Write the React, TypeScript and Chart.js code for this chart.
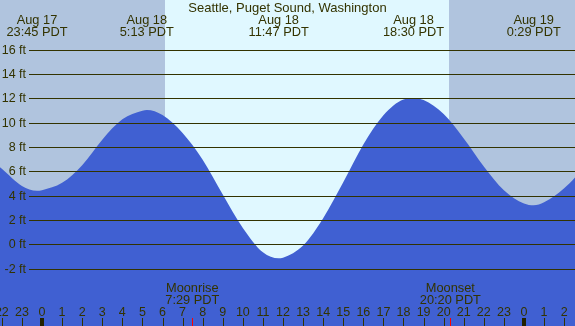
import { useEffect, useRef } from "react";
import { Chart, registerables } from "chart.js";

Chart.register(...registerables);

const TITLE = "Seattle, Puget Sound, Washington";

// hours since Aug 18 00:00 PDT
const tideHours = [-3, -2, -1, -0.25, 0, 1, 2, 3, 4, 5, 5.22, 6, 7, 8, 9, 10, 11, 11.78, 12, 13, 14, 15, 16, 17, 18, 18.5, 19, 20, 21, 22, 23, 24, 24.48, 25, 26, 27];
const tideFeet = [7.6, 6.2, 4.8, 4.4, 4.45, 5.05, 6.5, 8.6, 10.27, 10.98, 11.03, 10.62, 9.15, 6.95, 4.1, 1.35, -0.65, -1.15, -1.1, -0.1, 2.15, 5.1, 8.2, 10.6, 11.9, 12.0, 11.85, 10.7, 8.7, 6.4, 4.45, 3.35, 3.2, 3.45, 4.6, 6.3];

const extremeHours = [-0.25, 5.217, 11.783, 18.5, 24.483];
const extremeDates = ["Aug 17", "Aug 18", "Aug 18", "Aug 18", "Aug 19"];
const extremeTimes = ["23:45 PDT", "5:13 PDT", "11:47 PDT", "18:30 PDT", "0:29 PDT"];

const moonHours = [7.483, 20.333];
const moonNames = ["Moonrise", "Moonset"];
const moonTimes = ["7:29 PDT", "20:20 PDT"];

const sunHours = [6.12, 20.27];

const hourValues = [-2, -1, 0, 1, 2, 3, 4, 5, 6, 7, 8, 9, 10, 11, 12, 13, 14, 15, 16, 17, 18, 19, 20, 21, 22, 23, 24, 25, 26];
const hourLabels = ["22", "23", "0", "1", "2", "3", "4", "5", "6", "7", "8", "9", "10", "11", "12", "13", "14", "15", "16", "17", "18", "19", "20", "21", "22", "23", "0", "1", "2"];
const midnightHours = [0, 24];

const yTickValues = [-2, 0, 2, 4, 6, 8, 10, 12, 14, 16];
const yTickLabels = ["-2 ft", "0 ft", "2 ft", "4 ft", "6 ft", "8 ft", "10 ft", "12 ft", "14 ft", "16 ft"];

const NIGHT = "#b0c4de";
const DAY = "#e0f8ff";
const WATER = "#4060d2";
const INK = "#333300";
const FONT = '"Liberation Sans", Arial, sans-serif';

const decor = {
  id: "tideDecor",
  beforeDraw(chart: any) {
    const { ctx, scales } = chart;
    const xs = scales.x;
    ctx.save();
    ctx.fillStyle = NIGHT;
    ctx.fillRect(0, 0, chart.width, chart.height);
    const x1 = xs.getPixelForValue(sunHours[0]);
    const x2 = xs.getPixelForValue(sunHours[1]);
    ctx.fillStyle = DAY;
    ctx.fillRect(Math.round(x1), 0, Math.round(x2) - Math.round(x1), chart.height);
    ctx.restore();
  },
  afterDatasetsDraw(chart: any) {
    const { ctx, scales } = chart;
    const xs = scales.x;
    const ys = scales.y;
    const W = chart.width;
    const H = chart.height;
    ctx.save();
    // grid lines and y labels
    ctx.strokeStyle = INK;
    ctx.lineWidth = 1;
    ctx.fillStyle = INK;
    ctx.font = `12.5px ${FONT}`;
    ctx.textAlign = "right";
    ctx.textBaseline = "middle";
    yTickValues.forEach((v, i) => {
      const y = Math.round(ys.getPixelForValue(v)) + 0.5;
      ctx.beginPath();
      ctx.moveTo(29, y);
      ctx.lineTo(W, y);
      ctx.stroke();
      ctx.fillText(yTickLabels[i], 26, y);
    });
    // title
    ctx.textAlign = "center";
    ctx.textBaseline = "alphabetic";
    ctx.font = `13px ${FONT}`;
    ctx.fillText(TITLE, W / 2, 12);
    // extremes
    ctx.font = `12.8px ${FONT}`;
    extremeHours.forEach((h, i) => {
      const x = xs.getPixelForValue(h);
      ctx.fillText(extremeDates[i], x, 23.5);
      ctx.fillText(extremeTimes[i], x, 36);
    });
    // moon
    moonHours.forEach((h, i) => {
      const x = xs.getPixelForValue(h);
      ctx.fillText(moonNames[i], x, 292);
      ctx.fillText(moonTimes[i], x, 304);
    });
    // hour labels
    ctx.font = `12.5px ${FONT}`;
    hourValues.forEach((h, i) => {
      const x = xs.getPixelForValue(h);
      ctx.fillText(hourLabels[i], x, 316);
    });
    // hour ticks
    hourValues.forEach((h) => {
      const x = Math.round(xs.getPixelForValue(h)) + 0.5;
      ctx.beginPath();
      ctx.moveTo(x, 318);
      ctx.lineTo(x, H);
      ctx.stroke();
    });
    ctx.fillStyle = "#222200";
    midnightHours.forEach((h) => {
      const x = Math.round(xs.getPixelForValue(h));
      ctx.fillRect(x - 2, 318, 4, H - 318);
    });
    ctx.strokeStyle = "#ff0000";
    moonHours.forEach((h) => {
      const x = Math.round(xs.getPixelForValue(h)) + 0.5;
      ctx.beginPath();
      ctx.moveTo(x, 318);
      ctx.lineTo(x, H);
      ctx.stroke();
    });
    ctx.restore();
  },
};

export default function App() {
  const ref = useRef<HTMLCanvasElement | null>(null);
  useEffect(() => {
    document.body.style.margin = "0";
    const canvas = ref.current;
    if (!canvas) return;
    const chart = new Chart(canvas, {
      type: "line",
      data: {
        datasets: [
          {
            data: tideHours.map((h, i) => ({ x: h, y: tideFeet[i] })),
            backgroundColor: WATER,
            borderColor: WATER,
            borderWidth: 0,
            pointRadius: 0,
            fill: "start",
            cubicInterpolationMode: "monotone",
          },
        ],
      },
      options: {
        animation: false,
        responsive: false,
        devicePixelRatio: 1,
        layout: { padding: 0 },
        plugins: { legend: { display: false }, title: { display: false }, tooltip: { enabled: false } },
        scales: {
          x: { type: "linear", min: -2.092, max: 26.54, display: false },
          y: { type: "linear", min: -6.71, max: 20.07, display: false },
        },
      },
      plugins: [decor],
    });
    return () => chart.destroy();
  }, []);
  return <canvas ref={ref} width={575} height={326} style={{ display: "block" }} />;
}
